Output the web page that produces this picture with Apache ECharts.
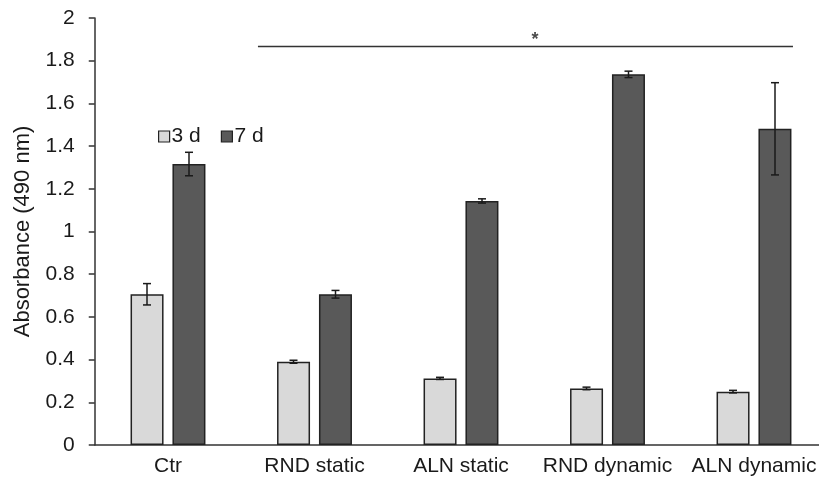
<!DOCTYPE html>
<html><head><meta charset="utf-8">
<script src="https://cdn.jsdelivr.net/npm/echarts@6/dist/echarts.min.js"></script>
<style>html,body{margin:0;padding:0;background:#fff}#c{width:819px;height:485px}</style>
</head><body><div id="c"></div>
<script>
const categories = ['Ctr', 'RND static', 'ALN static', 'RND dynamic', 'ALN dynamic'];
const d3 = [0.706, 0.390, 0.312, 0.265, 0.250];
const d3err = [0.050, 0.007, 0.005, 0.006, 0.006];
const d7 = [1.316, 0.706, 1.143, 1.736, 1.481];
const d7err = [0.055, 0.018, 0.010, 0.015, 0.216];
const sigLine = [[1.114, 1.867], [4.766, 1.867]];
const sigStar = [[3.005, 1.895]];

const BW = 33, OFF = 21;
function errSeries(vals, errs, sign) {
  return {
    type: 'custom', xAxisIndex: 0, yAxisIndex: 0, z: 10, silent: true,
    data: vals.map((v, i) => [i, v, errs[i]]),
    renderItem: function (params, api) {
      const i = api.value(0), v = api.value(1), e = api.value(2);
      const c = api.coord([i, v]);
      const x = c[0] + sign * OFF;
      const hi = api.coord([i, v + e])[1], lo = api.coord([i, v - e])[1];
      const st = { stroke: '#1a1a1a', lineWidth: 1.5 };
      return { type: 'group', children: [
        { type: 'line', shape: { x1: x, y1: hi, x2: x, y2: lo }, style: st },
        { type: 'line', shape: { x1: x - 4, y1: hi, x2: x + 4, y2: hi }, style: st },
        { type: 'line', shape: { x1: x - 4, y1: lo, x2: x + 4, y2: lo }, style: st }
      ]};
    }
  };
}

const FF = 'Liberation Sans, Arial, sans-serif';
const chart = echarts.init(document.getElementById('c'));
chart.setOption({
  animation: false,
  textStyle: { fontFamily: FF },
  grid: { left: 94.75, width: 732.5, top: 18, height: 427, containLabel: false, outerBoundsMode: 'none' },
  legend: {
    left: 153, top: 121, itemWidth: 11, itemHeight: 11, itemGap: 20, icon: 'rect',
    textStyle: { fontSize: 21, color: '#1a1a1a', fontFamily: FF, padding: [0, 0, 0, -3] },
    data: [
      { name: '3 d', itemStyle: { color: '#d9d9d9', borderColor: '#222', borderWidth: 1.2 } },
      { name: '7 d', itemStyle: { color: '#595959', borderColor: '#222', borderWidth: 1.2 } }
    ]
  },
  xAxis: [{
    type: 'category', data: categories,
    axisLine: { lineStyle: { color: '#333', width: 1.5 } },
    axisTick: { show: false },
    axisLabel: { fontSize: 21, color: '#1a1a1a', margin: 11, interval: 0 }
  }, {
    type: 'value', min: 0, max: 5, show: false
  }],
  yAxis: {
    type: 'value', min: 0, max: 2, interval: 0.2,
    name: 'Absorbance (490 nm)', nameLocation: 'middle', nameGap: 61, nameRotate: 90,
    nameTextStyle: { fontSize: 22, color: '#1a1a1a' },
    axisLine: { show: true, lineStyle: { color: '#333', width: 1.5 } },
    axisTick: { show: true, length: 6, lineStyle: { color: '#333', width: 1.5 } },
    axisLabel: { fontSize: 21, color: '#1a1a1a', margin: 20 },
    splitLine: { show: false }
  },
  series: [
    { name: '3 d', type: 'bar', data: d3, barWidth: BW, barGap: '27%',
      itemStyle: { color: '#d9d9d9', borderColor: '#222', borderWidth: 1.5 } },
    { name: '7 d', type: 'bar', data: d7, barWidth: BW, barGap: '27%',
      itemStyle: { color: '#595959', borderColor: '#222', borderWidth: 1.5 } },
    errSeries(d3, d3err, -1),
    errSeries(d7, d7err, 1),
    { type: 'line', xAxisIndex: 1, yAxisIndex: 0, data: sigLine, symbol: 'none', silent: true,
      lineStyle: { color: '#333', width: 1.5 } },
    { type: 'scatter', xAxisIndex: 1, yAxisIndex: 0, data: sigStar, symbolSize: 0, silent: true,
      label: { show: true, formatter: '*', fontSize: 18, fontWeight: 'bold', color: '#1a1a1a', position: 'inside' } }
  ]
});
</script></body></html>
